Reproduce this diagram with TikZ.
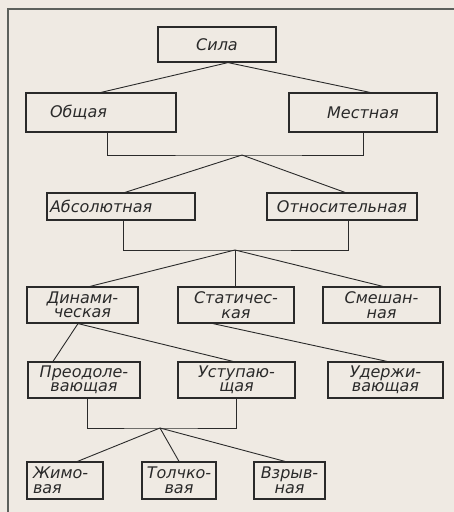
\documentclass[tikz,border=0pt]{standalone}
\usepackage{fontspec}
\newfontfamily\gostfont{DejaVu Sans}
\definecolor{paperBg}{HTML}{EFEAE3}
\definecolor{inkText}{HTML}{2A2A2A}
\definecolor{frameLine}{HTML}{5C605C}

\tikzset{
  box/.style={draw=inkText, line width=1.2pt, inner ysep=0pt, align=center,
    font=\gostfont\itshape\fontsize{16}{14.5}\selectfont, text=inkText},
  link/.style={draw=inkText, line width=0.9pt},
}

\begin{document}
\begin{tikzpicture}[x=1pt, y=-1pt]

    % page
    \fill[paperBg] (0,0) rectangle (454,512);
    \useasboundingbox (0,0) rectangle (454,512);
    \draw[frameLine, line width=1.5pt] (454,9) -- (8,9) -- (8,512);

    % top levels
    \node[box, minimum width=118, minimum height=35] (sila) at (217,44.5) {Сила};
    \node[box, align=left, inner xsep=24, text width=102, minimum height=39] (obsh) at (101,112.5) {Общая};
    \node[box, minimum width=148, minimum height=39] (mest) at (363,112.5) {Местная};
    \node[box, align=left, inner xsep=3, text width=142, minimum height=27] (abs) at (121,206.5) {Абсолютная};
    \node[box, minimum width=150, minimum height=27] (rel) at (342,206.5) {Относительная};

    % kinds
    \node[box, minimum width=111, minimum height=36] (dyn) at (82.5,305) {Динами-\\ческая};
    \node[box, minimum width=116, minimum height=36] (stat) at (236,305) {Статичес-\\кая};
    \node[box, minimum width=117, minimum height=36] (mix) at (381.5,305) {Смешан-\\ная};

    % modes
    \node[box, minimum width=112, minimum height=36] (pre) at (84,380) {Преодоле-\\вающая};
    \node[box, minimum width=117, minimum height=36] (ust) at (236.5,380) {Уступаю-\\щая};
    \node[box, minimum width=115, minimum height=36] (hold) at (385.5,380) {Удержи-\\вающая};

    % bottom row
    \node[box, align=left, inner xsep=6, text width=64, minimum height=37] (zhim) at (65,480.5) {Жимо-\\вая};
    \node[box, minimum width=74, minimum height=37] (tolch) at (179,480.5) {Толчко-\\вая};
    \node[box, minimum width=71, minimum height=37] (vzr) at (289.5,480.5) {Взрыв-\\ная};

    % junctions
    \coordinate (j2) at (242,155);
    \coordinate (j3) at (235,250);
    \coordinate (j4) at (160,428);

    % links
    \draw[link] (obsh.north) -- ([xshift=11pt]sila.south) -- ([xshift=7pt]mest.north);
    \draw[link] ([xshift=6pt]obsh.south) |- (j2) -| (mest.south);
    \draw[link] ([xshift=4pt]abs.north) -- (j2) -- ([xshift=3pt]rel.north);
    \draw[link] ([xshift=2pt]abs.south) |- (j3) -| ([xshift=6pt]rel.south);
    \draw[link] ([xshift=7.5pt]dyn.north) -- (j3) -- ([xshift=1.5pt]mix.north);
    \draw[link] (j3) -- ([xshift=-1pt]stat.north);
    \draw[link] ([xshift=-31pt]pre.north) -- ([xshift=-4.5pt]dyn.south) -- ([xshift=-3.5pt]ust.north);
    \draw[link] ([xshift=-23pt]stat.south) -- ([xshift=1.5pt]hold.north);
    \draw[link] ([xshift=3pt]pre.south) |- (j4) -| (ust.south);
    \draw[link] ([xshift=12.5pt]zhim.north) -- (j4) -- ([xshift=-4.5pt]vzr.north);
    \draw[link] (j4) -- (tolch.north);

\end{tikzpicture}
\end{document}
